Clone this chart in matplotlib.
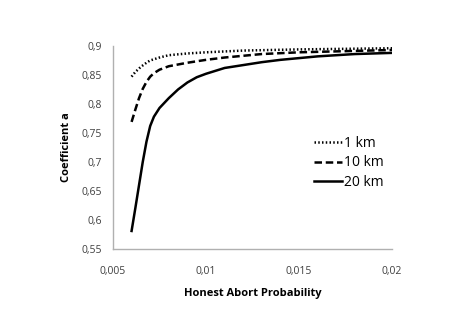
import matplotlib
matplotlib.use("Agg")
import matplotlib.pyplot as plt

plt.rcParams['font.family'] = ['Open Sans', 'DejaVu Sans']

x1 = [0.006, 0.0062, 0.0065, 0.0068, 0.007, 0.0075, 0.008, 0.009, 0.01, 0.012, 0.015, 0.02]
y1 = [0.847, 0.855, 0.864, 0.871, 0.875, 0.880, 0.884, 0.887, 0.889, 0.892, 0.894, 0.896]
x2 = [0.006, 0.0062, 0.0064, 0.0066, 0.0068, 0.007, 0.0072, 0.0075, 0.008, 0.009, 0.01,
      0.011, 0.012, 0.013, 0.015, 0.0175, 0.02]
y2 = [0.769, 0.790, 0.810, 0.826, 0.838, 0.847, 0.853, 0.859, 0.865, 0.871, 0.876,
      0.880, 0.883, 0.886, 0.889, 0.891, 0.893]
x3 = [0.006, 0.0062, 0.0064, 0.0066, 0.0068, 0.007, 0.0072, 0.0075, 0.008, 0.0085, 0.009,
      0.0095, 0.01, 0.011, 0.012, 0.013, 0.014, 0.015, 0.016, 0.017, 0.018, 0.019, 0.02]
y3 = [0.581, 0.620, 0.660, 0.700, 0.735, 0.762, 0.778, 0.793, 0.810, 0.825, 0.837,
      0.846, 0.852, 0.862, 0.867, 0.872, 0.876, 0.879, 0.882, 0.884, 0.886, 0.887, 0.888]
labels = ['1 km', '10 km', '20 km']
xticks = [0.005, 0.01, 0.015, 0.02]
xticklabels = ['0,005', '0,01', '0,015', '0,02']
yticks = [0.55, 0.6, 0.65, 0.7, 0.75, 0.8, 0.85, 0.9]
yticklabels = ['0,55', '0,6', '0,65', '0,7', '0,75', '0,8', '0,85', '0,9']

fig = plt.figure(figsize=(4.63, 3.28), dpi=100)
ax = fig.add_axes([0.244, 0.241, 0.603, 0.619])
ax.plot(x1, y1, color='black', lw=1.8, linestyle=(0, (0.6, 0.9)), label=labels[0])
ax.plot(x2, y2, color='black', lw=1.8, linestyle=(0, (3, 1.5)), label=labels[1])
ax.plot(x3, y3, color='black', lw=1.8, linestyle='-', label=labels[2])
ax.set_xlim(0.005, 0.02)
ax.set_ylim(0.55, 0.9)
ax.set_xticks(xticks)
ax.set_xticklabels(xticklabels)
ax.set_yticks(yticks)
ax.set_yticklabels(yticklabels)
ax.tick_params(length=0, labelsize=7.5, pad=8, colors='#404040')
ax.tick_params(axis='x', pad=12)
for s in ['top', 'right']:
    ax.spines[s].set_visible(False)
for s in ['left', 'bottom']:
    ax.spines[s].set_color('#b0b0b0')
    ax.spines[s].set_linewidth(1)
ax.set_xlabel('Honest Abort Probability', fontsize=8, fontweight='bold', labelpad=8)
ax.set_ylabel('Coefficient a', fontsize=8, fontweight='bold', labelpad=7)
ax.legend(loc='upper left', bbox_to_anchor=(0.675, 0.62), frameon=False, fontsize=10,
          handlelength=2.0, handletextpad=0.2, labelspacing=0.35)
fig.savefig('out.png', dpi=100)
